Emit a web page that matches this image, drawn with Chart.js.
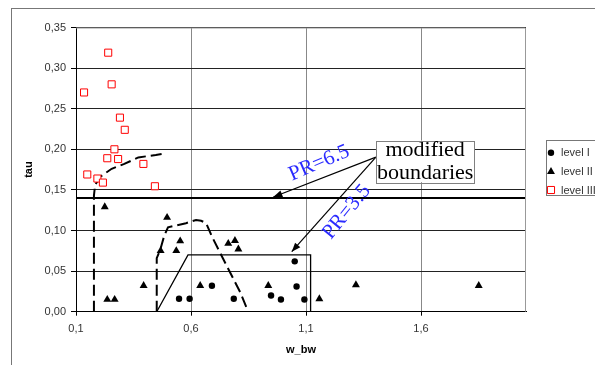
<!DOCTYPE html>
<html><head><meta charset="utf-8">
<script src="https://cdn.jsdelivr.net/npm/chart.js@4"></script>
<style>html,body{margin:0;padding:0;background:#fff}#wrap{width:595px;height:365px;position:relative}</style>
</head><body><div id="wrap"><canvas id="c" width="595" height="365"></canvas></div>
<script>
// ---- data ----
const xTicks = [0.1, 0.6, 1.1, 1.6];
const xMin = 0.1, xMax = 2.0565;
const yMin = 0, yMax = 0.35, yStep = 0.05;

const seriesNames = ['level I', 'level II', 'level III'];

const level1X = [0.548, 0.594, 0.691, 0.786, 0.948, 0.991, 1.051, 1.059, 1.093];
const level1Y = [0.016, 0.016, 0.032, 0.016, 0.020, 0.015, 0.062, 0.031, 0.015];

const level2X = [0.225, 0.496, 0.468, 0.536, 0.553, 0.762, 0.791, 0.806, 0.394, 0.640, 0.236, 0.268, 0.936, 1.158, 1.317, 1.851];
const level2Y = [0.129, 0.116, 0.075, 0.075, 0.087, 0.084, 0.0875, 0.077, 0.032, 0.032, 0.015, 0.015, 0.032, 0.0157, 0.033, 0.032];

const level3X = [0.240, 0.255, 0.135, 0.291, 0.312, 0.267, 0.236, 0.283, 0.393, 0.149, 0.193, 0.217, 0.443];
const level3Y = [0.319, 0.280, 0.270, 0.239, 0.224, 0.200, 0.189, 0.188, 0.182, 0.169, 0.164, 0.159, 0.1545];

// boundaries
const prLineX = [xMin, xMax];
const prLineY = [0.14, 0.14];
const boxX = [0.451, 0.587, 1.12, 1.12];
const boxY = [0, 0.07, 0.07, 0];
const dash1X = [0.178, 0.178, 0.183, 0.204, 0.255, 0.310, 0.371, 0.447, 0.487];
const dash1Y = [0, 0.143, 0.156, 0.166, 0.176, 0.182, 0.190, 0.193, 0.195];
const dash2X = [0.451, 0.451, 0.466, 0.483, 0.500, 0.578, 0.622, 0.644, 0.666, 0.692, 0.749, 0.814, 0.849];
const dash2Y = [0, 0.066, 0.076, 0.093, 0.104, 0.109, 0.113, 0.112, 0.109, 0.092, 0.060, 0.024, 0];

const noteLines = ['modified', 'boundaries'];
const prLabels = ['PR=6.5', 'PR=3.5'];

// ---- helpers ----
const pts = (xs, ys) => xs.map((v, i) => ({x: v, y: ys[i]}));
const comma = (v, d) => v.toFixed(d).replace('.', ',');

// annotation layout (data coords)
const notes = {
  box: {x0: 1.404, x1: 1.832, y0: 0.2107, y1: 0.1595},
  textCx: 1.618, textY: [0.1987, 0.1703],
  arrowStart: {x: 1.404, y: 0.1903},
  arrowEnds: [{x: 0.958, y: 0.1412}, {x: 1.038, y: 0.0739}],
  prPos: [{x: 1.157, y: 0.183, ang: -23}, {x: 1.277, y: 0.123, ang: -51}]
};

const lineDs = (xs, ys, w, dash) => ({
  type: 'line', data: pts(xs, ys), showLine: true, borderColor: '#000', borderWidth: w,
  borderDash: dash, pointRadius: 0, fill: false, tension: 0, order: 5
});

const datasets = [
  {label: seriesNames[0], data: pts(level1X, level1Y), pointStyle: 'circle', pointRadius: 3.2,
   backgroundColor: '#000', borderColor: '#000', borderWidth: 0, order: 1},
  {label: seriesNames[1], data: pts(level2X, level2Y), pointStyle: 'triangle', pointRadius: 4.6,
   backgroundColor: '#000', borderColor: '#000', borderWidth: 0, order: 1},
  {label: seriesNames[2], data: pts(level3X, level3Y), pointStyle: 'rect', pointRadius: 5,
   backgroundColor: '#fff', borderColor: '#ff0000', borderWidth: 1, order: 1},
  lineDs(prLineX, prLineY, 2, []),
  lineDs(boxX, boxY, 1.3, []),
  lineDs(dash1X, dash1Y, 2, [11, 5]),
  lineDs(dash2X, dash2Y, 2, [11, 5])
];

function arrow(ctx, x0, y0, x1, y1) {
  ctx.beginPath(); ctx.moveTo(x0, y0); ctx.lineTo(x1, y1); ctx.stroke();
  const a = Math.atan2(y1 - y0, x1 - x0), L = 9, W = 3.5;
  ctx.beginPath();
  ctx.moveTo(x1, y1);
  ctx.lineTo(x1 - L * Math.cos(a) + W * Math.sin(a), y1 - L * Math.sin(a) - W * Math.cos(a));
  ctx.lineTo(x1 - L * Math.cos(a) - W * Math.sin(a), y1 - L * Math.sin(a) + W * Math.cos(a));
  ctx.closePath(); ctx.fill();
}

const overlay = {
  id: 'overlay',
  afterDraw(chart) {
    const {ctx, chartArea: a, scales: {x, y}} = chart;
    ctx.save();
    // plot border top/right
    ctx.strokeStyle = '#999'; ctx.lineWidth = 1;
    ctx.beginPath(); ctx.moveTo(a.left, a.top + 0.5); ctx.lineTo(a.right - 0.5, a.top + 0.5);
    ctx.lineTo(a.right - 0.5, a.bottom); ctx.stroke();
    // outer frame
    ctx.strokeStyle = '#777'; ctx.strokeRect(11.5, 8.5, 700, 500);

    // arrows
    ctx.strokeStyle = '#000'; ctx.fillStyle = '#000'; ctx.lineWidth = 1.2;
    const sx = x.getPixelForValue(notes.arrowStart.x), sy = y.getPixelForValue(notes.arrowStart.y);
    notes.arrowEnds.forEach(e => arrow(ctx, sx, sy, x.getPixelForValue(e.x), y.getPixelForValue(e.y)));

    // note box
    const bx0 = x.getPixelForValue(notes.box.x0), bx1 = x.getPixelForValue(notes.box.x1);
    const by0 = y.getPixelForValue(notes.box.y0), by1 = y.getPixelForValue(notes.box.y1);
    ctx.fillStyle = '#fff'; ctx.fillRect(bx0, by0, bx1 - bx0, by1 - by0);
    ctx.strokeStyle = '#808080'; ctx.lineWidth = 1;
    ctx.strokeRect(Math.round(bx0) + 0.5, Math.round(by0) + 0.5, Math.round(bx1 - bx0), Math.round(by1 - by0));
    ctx.fillStyle = '#000'; ctx.font = '22px "Liberation Serif"';
    ctx.textAlign = 'center'; ctx.textBaseline = 'middle';
    noteLines.forEach((t, i) => ctx.fillText(t, x.getPixelForValue(notes.textCx), y.getPixelForValue(notes.textY[i])));

    // PR labels
    ctx.fillStyle = '#2b2bff'; ctx.font = '21px "Liberation Serif"';
    prLabels.forEach((t, i) => {
      const p = notes.prPos[i];
      ctx.save();
      ctx.translate(x.getPixelForValue(p.x), y.getPixelForValue(p.y));
      ctx.rotate(p.ang * Math.PI / 180);
      ctx.fillText(t, 0, 0);
      ctx.restore();
    });

    // legend
    ctx.fillStyle = '#fff'; ctx.fillRect(546, 140, 60, 56);
    ctx.strokeStyle = '#777'; ctx.lineWidth = 1; ctx.strokeRect(546.5, 140.5, 80, 55);
    const rows = [152.7, 171.7, 190];
    ctx.font = '11px "Liberation Sans"'; ctx.textAlign = 'left'; ctx.textBaseline = 'middle';
    datasets.slice(0, 3).forEach((d, i) => {
      ctx.fillStyle = d.backgroundColor; ctx.strokeStyle = d.borderColor; ctx.lineWidth = d.borderWidth;
      Chart.helpers.drawPoint(ctx, {pointStyle: d.pointStyle, radius: d.pointRadius, rotation: 0, borderWidth: d.borderWidth}, 551, rows[i]);
      ctx.fillStyle = '#333';
      ctx.fillText(d.label, 561, rows[i] + 0.5);
    });
    ctx.restore();
  }
};

new Chart(document.getElementById('c'), {
  type: 'scatter',
  data: {datasets},
  options: {
    responsive: false, animation: false, devicePixelRatio: 1,
    layout: {padding: {left: 0, top: 27.5, right: 69, bottom: 0}},
    plugins: {legend: {display: false}, tooltip: {enabled: false}},
    scales: {
      x: {
        type: 'linear', min: xMin, max: xMax,
        afterBuildTicks: s => { s.ticks = xTicks.map(v => ({value: v})); },
        afterFit: s => { s.height = 53.3; },
        ticks: {callback: v => comma(v, 1), color: '#333', font: {family: 'Liberation Sans', size: 11}, padding: 7, maxRotation: 0},
        grid: {color: '#888', lineWidth: 1, tickLength: 4, tickColor: '#000'},
        border: {display: true, color: '#000', width: 1},
        title: {display: true, text: 'w_bw', color: '#000', font: {family: 'Liberation Sans', size: 11, weight: 'bold'}, padding: {top: 0, bottom: 8.4}}
      },
      y: {
        type: 'linear', min: yMin, max: yMax,
        ticks: {stepSize: yStep, callback: v => comma(v, 2), color: '#333', font: {family: 'Liberation Sans', size: 11}, padding: 5},
        afterFit: s => { s.width = 76; },
        grid: {color: '#222', lineWidth: 1, tickLength: 5, tickColor: '#000'},
        border: {display: true, color: '#000', width: 1},
        title: {display: true, text: 'tau', color: '#000', font: {family: 'Liberation Sans', size: 11, weight: 'bold'}, padding: {top: 22.4, bottom: 0}}
      }
    }
  },
  plugins: [overlay]
});
</script>
</body></html>
